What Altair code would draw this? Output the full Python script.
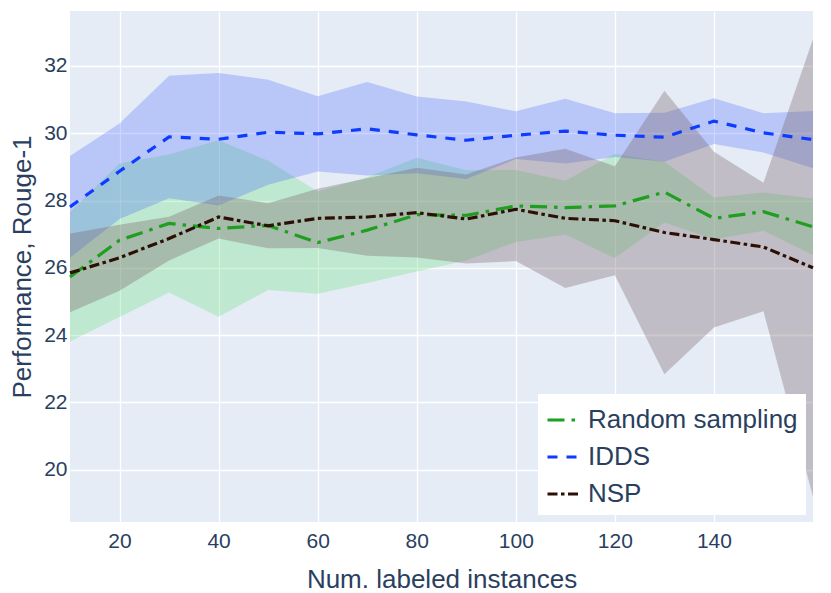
import altair as alt
import pandas as pd

x_vals = [10, 20, 30, 40, 50, 60, 70, 80, 90, 100, 110, 120, 130, 140, 150, 160]
series_names = ["Random sampling", "IDDS", "NSP"]

rand_mean = [25.73, 26.82, 27.32, 27.17, 27.26, 26.75, 27.12, 27.58, 27.56, 27.84, 27.79, 27.84, 28.25, 27.47, 27.67, 27.22]
rand_std = [1.92, 2.28, 2.05, 2.62, 1.92, 1.52, 1.57, 1.69, 1.34, 1.07, 0.80, 1.55, 0.90, 0.62, 0.57, 0.84]

idds_mean = [27.81, 28.87, 29.89, 29.82, 30.03, 29.98, 30.13, 29.95, 29.79, 29.94, 30.06, 29.94, 29.88, 30.36, 30.01, 29.81]
idds_std = [1.51, 1.42, 1.82, 1.97, 1.56, 1.12, 1.39, 1.14, 1.15, 0.71, 0.96, 0.65, 0.73, 0.68, 0.58, 0.85]

nsp_mean = [25.85, 26.30, 26.87, 27.51, 27.25, 27.47, 27.51, 27.64, 27.45, 27.74, 27.47, 27.40, 27.05, 26.84, 26.62, 26.00]
nsp_std = [1.17, 0.98, 0.65, 0.64, 0.67, 0.88, 1.15, 1.33, 1.32, 1.54, 2.07, 1.62, 4.21, 2.61, 1.91, 6.80]

x_ticks = [20, 40, 60, 80, 100, 120, 140]
y_ticks = [20, 22, 24, 26, 28, 30, 32]

line_colors = ["#1f9e1f", "#0d3bff", "#2d1005"]
fill_colors = ["rgba(102,221,119,0.30)", "rgba(51,85,255,0.25)", "rgba(120,100,105,0.34)"]
dashes = [[17, 7, 3.5, 7], [10, 9], [10, 3.5, 3.5, 3.5]]

rows = []
for order, (name, means, stds) in enumerate(zip(series_names, [rand_mean, idds_mean, nsp_mean], [rand_std, idds_std, nsp_std])):
    for xv, mv, sv in zip(x_vals, means, stds):
        rows.append({"x": xv, "series": name, "order": order, "mean": mv, "lo": mv - sv, "hi": mv + sv})
df = pd.DataFrame(rows)

font = "Liberation Sans"
txt = "#2a3f5f"

xscale = alt.Scale(domain=[10, 160], nice=False, zero=False)
yscale = alt.Scale(domain=[18.45, 33.63], nice=False, zero=False)

xaxis = alt.Axis(values=x_ticks, title="Num. labeled instances", labelPadding=8,
                 titleBaseline="alphabetic", titleY=65)
yaxis = alt.Axis(values=y_ticks, title="Performance, Rouge-1", labelPadding=3,
                 titleX=-48, titleY=255.5, titleBaseline="middle", titleAlign="center")

base = alt.Chart(df)

# fill scale uses the reversed order so that its (disabled) legend is not merged with the line legend
areas = base.mark_area(interpolate="linear").encode(
    x=alt.X("x:Q", scale=xscale, axis=xaxis),
    y=alt.Y("lo:Q", scale=yscale, axis=yaxis),
    y2="hi:Q",
    fill=alt.Fill("series:N", scale=alt.Scale(domain=series_names[::-1], range=fill_colors[::-1]), legend=None),
    order=alt.Order("order:Q"),
)

leg = alt.Legend(title=None)

lines = base.mark_line(strokeWidth=3.2).encode(
    x=alt.X("x:Q", scale=xscale),
    y=alt.Y("mean:Q", scale=yscale),
    color=alt.Color("series:N", scale=alt.Scale(domain=series_names, range=line_colors), legend=leg),
    strokeDash=alt.StrokeDash("series:N", scale=alt.Scale(domain=series_names, range=dashes), legend=leg),
    detail="series:N",
)

chart = alt.layer(areas, lines).properties(
    width=743, height=511,
    autosize=alt.AutoSizeParams(type="none"),
    padding={"left": 62, "top": 3, "right": 8, "bottom": 70},
).configure_view(
    fill="#E5ECF6", strokeWidth=0
).configure_axis(
    domain=False, ticks=False, grid=True, gridColor="white", gridWidth=1.3,
    labelFont=font, labelFontSize=21, labelColor=txt,
    titleFont=font, titleFontSize=26, titleFontWeight="normal", titleColor=txt,
).configure_legend(
    orient="none", legendX=468, legendY=383, direction="vertical",
    fillColor="white", padding=8, labelFont=font, labelFontSize=26, labelColor=txt,
    labelLimit=400, symbolType="stroke", symbolSize=1089, symbolStrokeWidth=3,
    labelOffset=6, rowPadding=6,
)

chart.save("out.html", embed_options={"renderer": "svg", "actions": False})
